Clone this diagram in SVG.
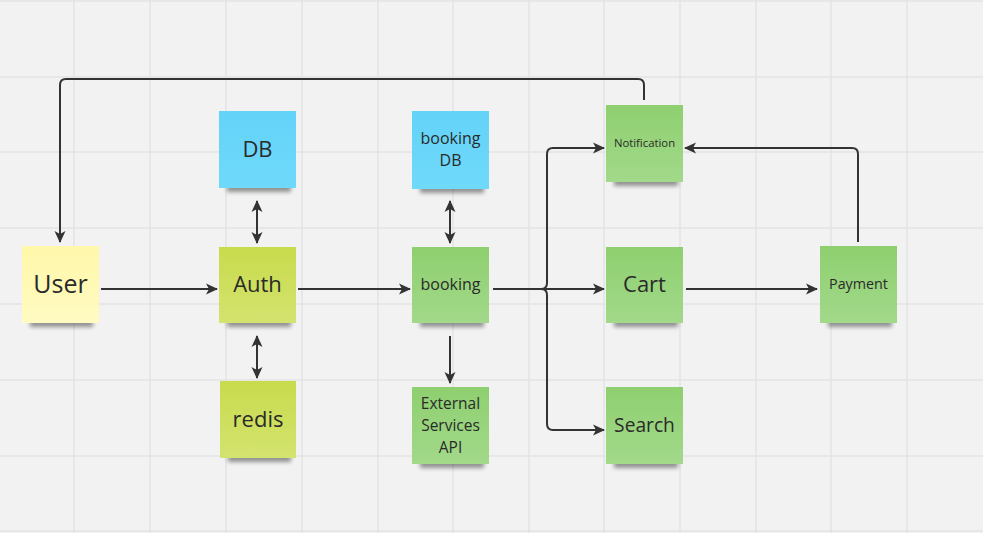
<svg xmlns="http://www.w3.org/2000/svg" width="983" height="533" viewBox="0 0 983 533">
<style>
.grid line{stroke:#e3e3e3;stroke-width:1.5}
.conn path{fill:none;stroke:#333333;stroke-width:2}
.lbl{font-family:"Open Sans","Noto Sans","Liberation Sans",sans-serif;fill:#2a2a2a;text-anchor:middle}
.sh{fill:#000;opacity:.4;filter:url(#blur)}
</style>
<defs>
<filter id="blur" x="-20%" y="-100%" width="140%" height="300%"><feGaussianBlur stdDeviation="2.2"/></filter>
<linearGradient id="gY" x1="0" y1="0" x2="0" y2="1"><stop offset="0" stop-color="#fff7a9"/><stop offset="1" stop-color="#fffbc2"/></linearGradient>
<linearGradient id="gL" x1="0" y1="0" x2="0" y2="1"><stop offset="0" stop-color="#c8db4c"/><stop offset="1" stop-color="#d3e36f"/></linearGradient>
<linearGradient id="gC" x1="0" y1="0" x2="0" y2="1"><stop offset="0" stop-color="#63d3f8"/><stop offset="1" stop-color="#6fd9fa"/></linearGradient>
<linearGradient id="gG" x1="0" y1="0" x2="0" y2="1"><stop offset="0" stop-color="#8ecf6f"/><stop offset="1" stop-color="#a2d98a"/></linearGradient>
<marker id="ah" viewBox="0 0 12 12" refX="11" refY="6" markerWidth="12" markerHeight="12" markerUnits="userSpaceOnUse" orient="auto-start-reverse"><path d="M0,0.5 L12,6 L0,11.5 L3,6 Z" fill="#333333"/></marker>
</defs>
<rect width="983" height="533" fill="#f2f2f2"/>
<g class="grid">
<line x1="0" y1="1" x2="983" y2="1"/><line x1="0" y1="77" x2="983" y2="77"/><line x1="0" y1="152" x2="983" y2="152"/><line x1="0" y1="228" x2="983" y2="228"/><line x1="0" y1="304" x2="983" y2="304"/><line x1="0" y1="380" x2="983" y2="380"/><line x1="0" y1="456" x2="983" y2="456"/><line x1="0" y1="531" x2="983" y2="531"/>
<line x1="74" y1="0" x2="74" y2="533"/><line x1="150" y1="0" x2="150" y2="533"/><line x1="226" y1="0" x2="226" y2="533"/><line x1="302" y1="0" x2="302" y2="533"/><line x1="378" y1="0" x2="378" y2="533"/><line x1="453" y1="0" x2="453" y2="533"/><line x1="529" y1="0" x2="529" y2="533"/><line x1="604" y1="0" x2="604" y2="533"/><line x1="680" y1="0" x2="680" y2="533"/><line x1="756" y1="0" x2="756" y2="533"/><line x1="831" y1="0" x2="831" y2="533"/><line x1="907" y1="0" x2="907" y2="533"/>
</g>
<g id="connectors" class="conn">
<path d="M101,289 H217" marker-end="url(#ah)"/>
<path d="M298,289 H410" marker-end="url(#ah)"/>
<path d="M257,201 V243" marker-start="url(#ah)" marker-end="url(#ah)"/>
<path d="M257,336 V378" marker-start="url(#ah)" marker-end="url(#ah)"/>
<path d="M450,201 V243" marker-start="url(#ah)" marker-end="url(#ah)"/>
<path d="M450,336 V383" marker-end="url(#ah)"/>
<path d="M493,289 H541 Q547,289 547,283 V154 Q547,148 553,148 H604" marker-end="url(#ah)"/>
<path d="M493,289 H604" marker-end="url(#ah)"/>
<path d="M493,289 H541 Q547,289 547,295 V424 Q547,430 553,430 H604" marker-end="url(#ah)"/>
<path d="M686,289 H817" marker-end="url(#ah)"/>
<path d="M858,242 V154 Q858,148 852,148 H685" marker-end="url(#ah)"/>
<path d="M644,100 V85 Q644,79 638,79 H66 Q60,79 60,85 V242" marker-end="url(#ah)"/>
</g>
<g id="user"><rect class="sh" x="30" y="319" width="63" height="8"/><rect x="22" y="246" width="77" height="77" fill="url(#gY)"/><text class="lbl" x="60.5" y="293" font-size="25">User</text></g>
<g id="auth"><rect class="sh" x="227" y="319" width="64" height="8"/><rect x="219" y="247" width="77" height="76" fill="url(#gL)"/><text class="lbl" x="257.5" y="292" font-size="22">Auth</text></g>
<g id="db"><rect class="sh" x="227" y="184" width="64" height="8"/><rect x="219" y="111" width="77" height="77" fill="url(#gC)"/><text class="lbl" x="257.5" y="157" font-size="22">DB</text></g>
<g id="redis"><rect class="sh" x="228" y="454" width="63" height="8"/><rect x="220" y="381" width="76" height="77" fill="url(#gL)"/><text class="lbl" x="258" y="427" font-size="22">redis</text></g>
<g id="booking-db"><rect class="sh" x="420" y="185" width="64" height="8"/><rect x="412" y="111" width="77" height="78" fill="url(#gC)"/><text class="lbl" x="450.5" y="144" font-size="16">booking</text><text class="lbl" x="450.5" y="166" font-size="16">DB</text></g>
<g id="booking"><rect class="sh" x="420" y="319" width="64" height="8"/><rect x="412" y="247" width="77" height="76" fill="url(#gG)"/><text class="lbl" x="450.5" y="289.5" font-size="16">booking</text></g>
<g id="external-api"><rect class="sh" x="420" y="460" width="64" height="8"/><rect x="412" y="387" width="77" height="77" fill="url(#gG)"/><text class="lbl" x="450.5" y="408.7" font-size="15.5">External</text><text class="lbl" x="450.5" y="430.7" font-size="15.5">Services</text><text class="lbl" x="450.5" y="452.5" font-size="15.5">API</text></g>
<g id="notification"><rect class="sh" x="614" y="178" width="64" height="8"/><rect x="606" y="105" width="77" height="77" fill="url(#gG)"/><text class="lbl" x="644.5" y="147" font-size="11.3">Notification</text></g>
<g id="cart"><rect class="sh" x="614" y="319" width="64" height="8"/><rect x="606" y="247" width="77" height="76" fill="url(#gG)"/><text class="lbl" x="644.5" y="292" font-size="22">Cart</text></g>
<g id="search"><rect class="sh" x="614" y="460" width="64" height="8"/><rect x="606" y="387" width="77" height="77" fill="url(#gG)"/><text class="lbl" x="644.5" y="431.7" font-size="19.2">Search</text></g>
<g id="payment"><rect class="sh" x="828" y="319" width="64" height="8"/><rect x="820" y="246" width="77" height="77" fill="url(#gG)"/><text class="lbl" x="858.5" y="289.3" font-size="14.3">Payment</text></g>
</svg>
